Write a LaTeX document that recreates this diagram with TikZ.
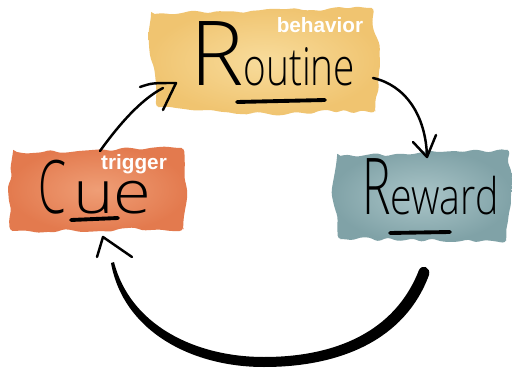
\documentclass[tikz,border=0pt]{standalone}
\usepackage{graphicx}
\usepackage{fontspec}
\newfontfamily\tagfont{Liberation Sans}
\newfontfamily\handfont{Open Sans Light}
\usetikzlibrary{decorations.pathmorphing}
\def\routineblob{(151,14) -- (372,8) -- (380,60) -- (375,111) -- (240,114) -- (158,107) -- (150,55) -- cycle}
\def\cueblob{(13,152) -- (182,148) -- (187,190) -- (183,229) -- (12,231) -- (8,190) -- cycle}
\def\rewardblob{(337,156) -- (508,150) -- (511,200) -- (506,241) -- (340,239) -- (332,196) -- cycle}
\newcommand\handletters[4]{{\fontsize{#1}{#1}\selectfont\scalebox{#2}[1]{#3}}#4}
\definecolor{routine area}{RGB}{240,196,112}
\definecolor{routine light}{RGB}{248,220,156}
\definecolor{cue area}{RGB}{227,122,78}
\definecolor{cue light}{RGB}{239,158,118}
\definecolor{reward area}{RGB}{128,162,167}
\definecolor{reward light}{RGB}{170,197,200}
\tikzset{blob/.style={decorate, decoration={random steps, segment length=5pt, amplitude=1.3pt}, rounded corners=2pt},
	hand/.style={inner sep=0pt, anchor=base west, font=\handfont},
	tag/.style={inner sep=0pt, text=white, font=\tagfont\bfseries\fontsize{11.8}{14}\selectfont},
	stroke/.style={line width=1.4pt, line cap=round, line join=round},
	underline/.style={line width=2.2pt, line cap=round}}

\begin{document}
\begin{tikzpicture}[x=0.02cm, y=-0.02cm]
		\pgfmathsetseed{7}
		\path[fill=white] (0,0) rectangle (512,369);
		\shade[blob, inner color=routine light, outer color=routine area] \routineblob;
		\shade[blob, inner color=cue light, outer color=cue area] \cueblob;
		\shade[blob, inner color=reward light, outer color=reward area] \rewardblob;
		
		\node[hand] (routine) at (190,85) {\handletters{51}{1.0}{R}{\handletters{29.8}{0.74}{outine}{}}};
		\node[hand] (cue) at (38,213) {\smash{\handletters{42}{0.61}{C}{}}\hspace{0.14cm}\handletters{34}{1.15}{ue}{}};
		\node[hand] (reward) at (362,214) {\handletters{44.6}{0.61}{R}{\handletters{28.7}{0.78}{eward}{}}};
		\node[tag] (behavior) at (320,25) {behavior};
		\node[tag] (trigger) at (134,164) {trigger};
		\draw[underline] (237,102) -- (325,100);
		\draw[underline] (71,220) -- (118,218);
		\draw[underline] (390,233) -- (450,232);
		
		% connectors
		\coordinate (cue out) at (100,151);
		\coordinate (routine in) at (176,83);
		\coordinate (routine out) at (373,78);
		\coordinate (reward in) at (427,157);
		\coordinate (reward out) at (424,272);
		\coordinate (cue in) at (103,237);
		\draw[stroke] (cue out) .. controls (118,126) and (140,100) .. (163,88);
		\draw[stroke] (140,87) .. controls (152,83) .. (routine in) -- (163,110);
		\draw[stroke] (routine out) .. controls (405,85) and (426,115) .. (reward in);
		\draw[stroke] (413,142) -- (reward in) -- (436,135);
		\fill (111,263) .. controls (123,330) and (190,367) .. (264,367)
			.. controls (340,367) and (405,340) .. (429,275)
			.. controls (431,267) and (422,264) .. (419,270)
			.. controls (395,332) and (335,357) .. (264,357)
			.. controls (195,357) and (130,325) .. (114,262) -- cycle;
		\draw[stroke] (97,257) -- (cue in) -- (132,257);
		\end{tikzpicture}
\end{document}
